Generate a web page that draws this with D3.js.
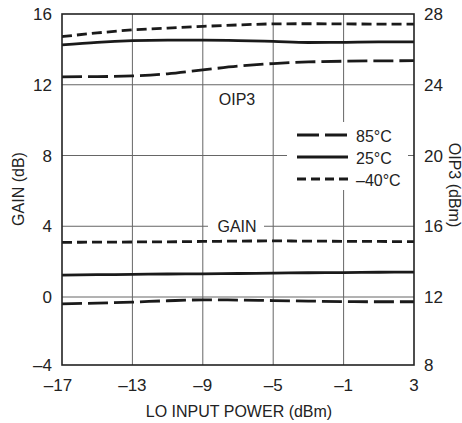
<!DOCTYPE html>
<html>
<head>
<meta charset="utf-8">
<script src="https://cdn.jsdelivr.net/npm/d3@7"></script>
<style>
  html, body { margin: 0; padding: 0; background: #fff; }
  svg { display: block; font-family: 'Liberation Sans', Arial, Helvetica, sans-serif; }
</style>
</head>
<body>
<script>
const WIDTH = 462;
const HEIGHT = 423;

// LO input power (dBm)
const loPower = [-17, -15, -13, -11, -9, -7, -5, -3, -1, 1, 3];

// OIP3 (dBm), right axis
const oip3Hot = [24.45, 24.46, 24.5, 24.62, 24.84, 25.05, 25.2, 25.29, 25.33, 25.35, 25.36];
const oip3Room = [26.25, 26.4, 26.49, 26.52, 26.52, 26.5, 26.45, 26.39, 26.4, 26.42, 26.42];
const oip3Cold = [26.72, 26.93, 27.1, 27.2, 27.3, 27.38, 27.44, 27.45, 27.44, 27.43, 27.43];

// Gain (dB), left axis
const gainHot = [-0.4, -0.36, -0.3, -0.22, -0.17, -0.18, -0.21, -0.24, -0.27, -0.28, -0.28];
const gainRoom = [1.24, 1.26, 1.28, 1.3, 1.31, 1.33, 1.35, 1.37, 1.38, 1.4, 1.41];
const gainCold = [3.09, 3.1, 3.11, 3.12, 3.14, 3.16, 3.17, 3.16, 3.15, 3.14, 3.13];

const xTicks = [-17, -13, -9, -5, -1, 3];
const gainTicks = [-4, 0, 4, 8, 12, 16];
const oip3Ticks = [8, 12, 16, 20, 24, 28];

const legendLabels = ['85°C', '25°C', '–40°C'];

const LONG_DASH = '20,6';
const SHORT_DASH = '10,5';
const DASHES = [LONG_DASH, null, SHORT_DASH];
const LEGEND_DASHES = ['22,6', null, '9,5'];

const minus = s => String(s).replace('-', '–');

const svg = d3.select('body').append('svg')
  .attr('width', WIDTH)
  .attr('height', HEIGHT);

// Scales (the plotted grid is slightly uneven at the bottom)
const x = d3.scaleLinear().domain([-17, 3]).range([62, 414]);
const yGain = d3.scaleLinear().domain([-4, 0, 16]).range([365, 297, 14]);
const yOip3 = d3.scaleLinear().domain([8, 12, 28]).range([365, 297, 14]);

// Grid
const grid = svg.append('g')
  .attr('stroke', '#666')
  .attr('stroke-width', 1);

grid.selectAll('line.v')
  .data(xTicks.slice(1, -1))
  .enter()
  .append('line')
  .attr('x1', d => x(d)).attr('x2', d => x(d))
  .attr('y1', yGain(16)).attr('y2', yGain(-4));

grid.selectAll('line.h')
  .data(gainTicks.slice(1, -1))
  .enter()
  .append('line')
  .attr('x1', x(-17)).attr('x2', x(3))
  .attr('y1', d => yGain(d)).attr('y2', d => yGain(d));

// Knock-outs behind labels
svg.append('rect')
  .attr('x', 287).attr('y', 122).attr('width', 121).attr('height', 68)
  .attr('fill', '#fff');
svg.append('rect')
  .attr('x', 208).attr('y', 217).attr('width', 56).attr('height', 17)
  .attr('fill', '#fff');

// Curves
const line = d3.line()
  .x((d, i) => x(loPower[i]))
  .curve(d3.curveMonotoneX);

const oip3Series = [oip3Hot, oip3Room, oip3Cold];
const gainSeries = [gainHot, gainRoom, gainCold];

const curves = svg.append('g')
  .attr('fill', 'none')
  .attr('stroke', '#1a1a1a')
  .attr('stroke-width', 2.8);

curves.selectAll('path.oip3')
  .data(oip3Series)
  .enter()
  .append('path')
  .attr('stroke-dasharray', (d, i) => DASHES[i])
  .attr('d', d => line.y(v => yOip3(v))(d));

curves.selectAll('path.gain')
  .data(gainSeries)
  .enter()
  .append('path')
  .attr('class', 'gain')
  .attr('stroke-dasharray', (d, i) => DASHES[i])
  .attr('d', d => line.y(v => yGain(v))(d));

// Frame
svg.append('rect')
  .attr('x', x(-17)).attr('y', yGain(16))
  .attr('width', x(3) - x(-17)).attr('height', yGain(-4) - yGain(16))
  .attr('fill', 'none')
  .attr('stroke', '#222')
  .attr('stroke-width', 1.6);

// Tick labels
const labels = svg.append('g')
  .attr('font-size', 17)
  .attr('fill', '#222');

labels.selectAll('text.yl')
  .data(gainTicks)
  .enter()
  .append('text')
  .attr('x', 52)
  .attr('y', d => yGain(d))
  .attr('dy', '0.36em')
  .attr('text-anchor', 'end')
  .text(d => minus(d));

labels.selectAll('text.yr')
  .data(oip3Ticks)
  .enter()
  .append('text')
  .attr('x', 424)
  .attr('y', d => yOip3(d))
  .attr('dy', '0.36em')
  .text(d => d);

labels.selectAll('text.xl')
  .data(xTicks)
  .enter()
  .append('text')
  .attr('x', (d, i) => x(d) - (i === 0 ? 4 : 0))
  .attr('y', 391)
  .attr('text-anchor', 'middle')
  .text(d => minus(d));

// Axis titles and in-plot labels
const titles = svg.append('g')
  .attr('font-size', 16)
  .attr('fill', '#222')
  .attr('text-anchor', 'middle');

titles.append('text')
  .attr('x', 239).attr('y', 417)
  .text('LO INPUT POWER (dBm)');

titles.append('text')
  .attr('transform', 'translate(23.5,189) rotate(-90)')
  .text('GAIN (dB)');

titles.append('text')
  .attr('transform', 'translate(449,185) rotate(90)')
  .text('OIP3 (dBm)');

titles.append('text')
  .attr('x', 237).attr('y', 105)
  .text('OIP3');

titles.append('text')
  .attr('x', 237).attr('y', 231.5)
  .text('GAIN');

// Legend
const legend = svg.append('g')
  .attr('transform', 'translate(297,135)');

const rows = legend.selectAll('g')
  .data(legendLabels)
  .enter()
  .append('g')
  .attr('transform', (d, i) => 'translate(0,' + i * 22 + ')');

rows.append('line')
  .attr('x1', 0).attr('x2', 51)
  .attr('stroke', '#1a1a1a')
  .attr('stroke-width', 2.8)
  .attr('stroke-dasharray', (d, i) => LEGEND_DASHES[i]);

rows.append('text')
  .attr('x', 59)
  .attr('y', 7)
  .attr('font-size', 16)
  .attr('fill', '#222')
  .text(d => d);
</script>
</body>
</html>
